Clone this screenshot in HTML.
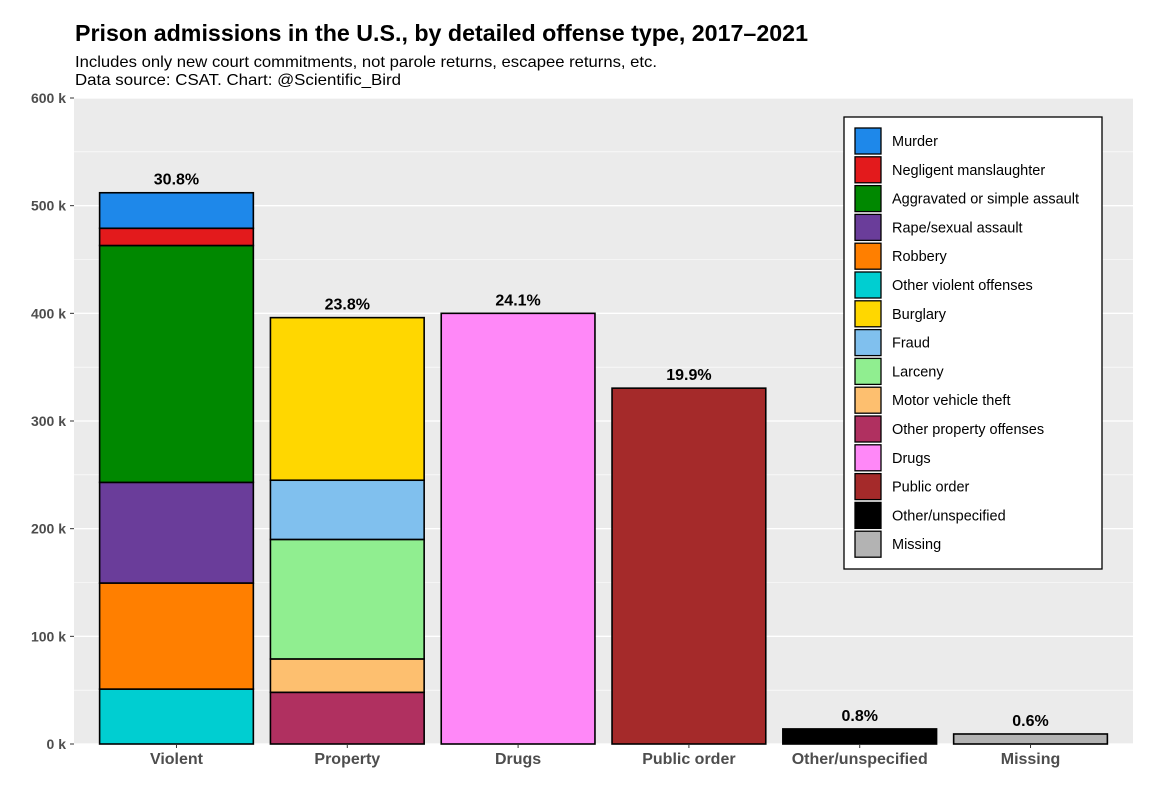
<!DOCTYPE html>
<html><head><meta charset="utf-8"><style>
body{margin:0;background:#fff;font-family:"Liberation Sans",sans-serif}
</style></head><body>
<svg width="1153" height="798" xmlns="http://www.w3.org/2000/svg" font-family="Liberation Sans, sans-serif">
<text x="75" y="41" font-size="23" font-weight="bold" fill="#000" textLength="733" lengthAdjust="spacingAndGlyphs">Prison admissions in the U.S., by detailed offense type, 2017–2021</text>
<text x="75" y="67" font-size="16" fill="#000" textLength="582" lengthAdjust="spacingAndGlyphs">Includes only new court commitments, not parole returns, escapee returns, etc.</text>
<text x="75" y="85" font-size="16" fill="#000" textLength="326" lengthAdjust="spacingAndGlyphs">Data source: CSAT.  Chart: @Scientific_Bird</text>
<rect x="74" y="98" width="1059" height="646" fill="#ebebeb"/>
<g id="grid"></g><g id="bars"></g><g id="labels"></g><g id="axes"></g>
<g id="legend"></g>
</svg>
<script>
const categories=["Violent","Property","Drugs","Public order","Other/unspecified","Missing"];
const pctLabels=["30.8%","23.8%","24.1%","19.9%","0.8%","0.6%"];
const segNames=["Murder","Negligent manslaughter","Aggravated or simple assault","Rape/sexual assault","Robbery","Other violent offenses","Burglary","Fraud","Larceny","Motor vehicle theft","Other property offenses","Drugs","Public order","Other/unspecified","Missing"];
const segColors=["#1e88ea","#e31a1c","#008800","#6a3d9a","#ff7f00","#00ced1","#ffd700","#80c0ee","#90ee90","#fdbf6f","#b03060","#ff88f8","#a52a2a","#000000","#b3b3b3"];
const violentVals=[[5,51000],[4,98500],[3,93500],[2,220000],[1,16000],[0,33000]];
const propertyVals=[[10,48000],[9,31000],[8,111000],[7,55000],[6,151000]];
const drugsVals=[[11,400000]];
const publicOrderVals=[[12,330500]];
const otherVals=[[13,14000]];
const missingVals=[[14,9300]];
const stacks=[violentVals,propertyVals,drugsVals,publicOrderVals,otherVals,missingVals];
const yTicks=[0,100000,200000,300000,400000,500000,600000];
const yTickLabels=["0 k","100 k","200 k","300 k","400 k","500 k","600 k"];
const NS="http://www.w3.org/2000/svg";
const X0=74,W=1059,Y0=744,H=646,YMAX=600000;
const unit=W/(categories.length+0.2);
const xc=i=>X0+(i+0.6)*unit;
const y=v=>Y0-v/YMAX*H;
function mk(t,a,p){const e=document.createElementNS(NS,t);for(const k in a)e.setAttribute(k,a[k]);document.getElementById(p).appendChild(e);return e;}
for(let v=50000;v<=YMAX;v+=100000){const l=mk('line',{x1:X0,x2:X0+W,y1:y(v),y2:y(v),stroke:'#fff','stroke-width':0.6},'grid');

}
yTicks.forEach((v,i)=>{const l=mk('line',{x1:X0,x2:X0+W,y1:y(v),y2:y(v),stroke:'#fff','stroke-width':1.3},'grid');


const t=mk('text',{x:66,y:y(v)+5,'text-anchor':'end','font-size':14,'font-weight':'bold',fill:'#4d4d4d'},'axes');t.textContent=yTickLabels[i];


const tk=mk('line',{x1:70,x2:74,y1:y(v),y2:y(v),stroke:'#333'},'axes');

});
const bw=unit*0.9;
stacks.forEach((st,i)=>{let cum=0;st.forEach(([s,v])=>{const r=mk('rect',{x:xc(i)-bw/2,y:y(cum+v),width:bw,height:y(cum)-y(cum+v),fill:segColors[s],stroke:'#000','stroke-width':1.6},'bars');

cum+=v;});
const t=mk('text',{x:xc(i),y:y(cum)-8,'text-anchor':'middle','font-size':16,'font-weight':'bold'},'labels');t.textContent=pctLabels[i];


const c=mk('text',{x:xc(i),y:764,'text-anchor':'middle','font-size':16,'font-weight':'bold',fill:'#4d4d4d'},'axes');c.textContent=categories[i];


const tk=mk('line',{x1:xc(i),x2:xc(i),y1:744,y2:748,stroke:'#333'},'axes');

});
const lb=mk('rect',{x:844,y:117,width:258,height:452,fill:'#fff',stroke:'#000','stroke-width':1.3},'legend');


segNames.forEach((n,i)=>{const ky=128+i*28.8;
const k=mk('rect',{x:855,y:ky,width:26,height:26,fill:segColors[i],stroke:'#000','stroke-width':1.3},'legend');


const t=mk('text',{x:892,y:ky+18,'font-size':14.5},'legend');t.textContent=n;

});
</script>
</body></html>
